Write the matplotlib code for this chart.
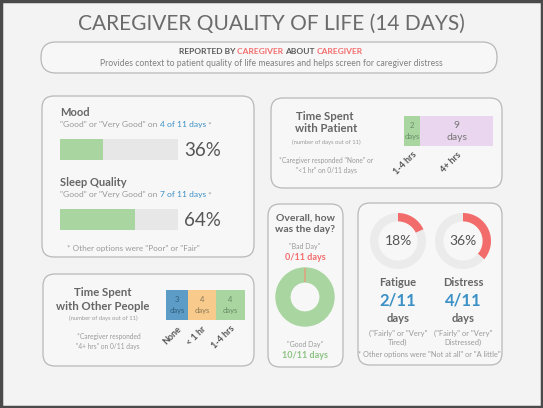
import numpy as np
import matplotlib.pyplot as plt
from matplotlib.patches import FancyBboxPatch, Rectangle

plt.rcParams['font.family'] = ['Lato', 'DejaVu Sans']

# ---- data ----
n_days = 11
mood_days = 4
sleep_days = 7
patient_labels = ['1-4 hrs', '4+ hrs']
patient_days = [2, 9]
others_labels = ['None', '< 1 hr', '1-4 hrs']
others_days = [3, 4, 4]
day_labels = ['Good Day', 'Bad Day']
day_counts = [10, 0]
fatigue_days = 2
distress_days = 4

# colours
GREEN = '#a9d6a0'
PINK = '#ead7ef'
BLUE = '#5d9cc6'
ORANGE = '#f8ca8c'
RED = '#f36c6c'
TXT_BLUE = '#3b90c6'
GREY = '#666666'
LIGHT = '#9a9a9a'

W, H = 543, 408
fig = plt.figure(figsize=(W / 100, H / 100), dpi=100)
fig.patch.set_facecolor('#f3f3f3')
bg = fig.add_axes([0, 0, 1, 1])
bg.set_xlim(0, W)
bg.set_ylim(H, 0)
bg.axis('off')
bg.add_patch(Rectangle((1, 1), W - 2, H - 2, fill=False, ec='#4a4a4a', lw=2.5))


def px_axes(x0, y0, x1, y1):
    a = fig.add_axes([x0 / W, 1 - y1 / H, (x1 - x0) / W, (y1 - y0) / H])
    a.patch.set_alpha(0)
    return a


def panel(x0, y0, x1, y1, r=12):
    bg.add_patch(FancyBboxPatch((x0, y0), x1 - x0, y1 - y0,
                                boxstyle=f'round,pad=0,rounding_size={r}',
                                fc='#f7f7f7', ec='#b8b8b8', lw=0.9))


def rich(x, y, parts, size, weight='normal', ha='left'):
    r = fig.canvas.get_renderer()
    texts = [bg.text(0, y, s, color=c, fontsize=size, fontweight=weight,
                     va='center', ha='left') for s, c in parts]
    widths = [t.get_window_extent(r).width for t in texts]
    cx = x - sum(widths) / 2 if ha == 'center' else x
    for t, w in zip(texts, widths):
        t.set_x(cx)
        cx += w


def note(x, y, s, size=4.8, **kw):
    bg.text(x, y, s, ha='center', va='center', fontsize=size, color=LIGHT, **kw)


def head(x, y, s, size=8.2, color=GREY):
    bg.text(x, y, s, ha='center', va='center', fontsize=size, fontweight='bold', color=color)


# ---- header ----
bg.text(271, 24, 'CAREGIVER QUALITY OF LIFE (14 DAYS)', ha='center', va='center',
        fontsize=15, color='#6b6b6b')
panel(41, 42, 497, 73, r=15)
rich(271, 51, [('REPORTED BY ', '#5a5a5a'), ('CAREGIVER ', RED), ('ABOUT ', '#5a5a5a'),
               ('CAREGIVER', RED)], 6, weight='bold', ha='center')
bg.text(271, 63, 'Provides context to patient quality of life measures and helps screen for caregiver distress',
        ha='center', va='center', fontsize=6.2, color='#808080')

# ---- mood / sleep panel ----
panel(42, 96, 254, 257)
for (name, days, ytop) in [('Mood', mood_days, 112), ('Sleep Quality', sleep_days, 182)]:
    bg.text(60, ytop, name, fontsize=8, fontweight='bold', color=GREY, va='center')
    rich(60, ytop + 13, [('"Good" or "Very Good" on ', LIGHT),
                         (f'{days} of {n_days} days', TXT_BLUE), (' *', LIGHT)], 6.1)
    bar_top = ytop + 27
    ax = px_axes(60, bar_top, 178, bar_top + 21)
    ax.barh([0], [n_days], height=1, color='#e7e7e7')
    ax.barh([0], [days], height=1, color=GREEN)
    ax.set_xlim(0, n_days)
    ax.set_ylim(-0.5, 0.5)
    ax.axis('off')
    bg.text(184, bar_top + 11, f'{round(100 * days / n_days)}%', fontsize=13.5,
            color='#555555', va='center')
bg.text(67, 248, '* Other options were "Poor" or "Fair"', fontsize=5.9, color=LIGHT, va='center')


def stacked(x0, y0, x1, y1, vals, labels, cols, txtcols, sizes):
    ax = px_axes(x0, y0, x1, y1)
    left = np.concatenate([[0], np.cumsum(vals)[:-1]])
    ax.barh([0] * len(vals), vals, left=left, height=1, color=cols)
    centers = left + np.array(vals) / 2
    for c, v, tc, s in zip(centers, vals, txtcols, sizes):
        ax.text(c, 0.17, str(v), ha='center', va='center', fontsize=s, color=tc)
        ax.text(c, -0.2, 'days', ha='center', va='center', fontsize=s, color=tc)
    ax.set_xlim(0, sum(vals))
    ax.set_ylim(-0.5, 0.5)
    ax.set_yticks([])
    ax.set_xticks(centers, labels, rotation=45, ha='right', rotation_mode='anchor',
                  fontsize=6.5, color='#555555', fontweight='bold')
    ax.tick_params(length=0, pad=3)
    for sp in ax.spines.values():
        sp.set_visible(False)


# ---- time with patient ----
panel(271, 98, 502, 188)
head(325, 116, 'Time Spent')
head(326, 129, 'with Patient')
note(326, 142, f'(number of days out of {n_days})', size=4.2)
note(326, 161, '*Caregiver responded "None" or')
note(326, 170, f'"<1 hr" on 0/{n_days} days')
stacked(404, 116, 493, 146, patient_days, patient_labels, [GREEN, PINK],
        ['#6a8a66', '#777777'], [5.5, 7.5])

# ---- time with other people ----
panel(43, 274, 254, 366)
head(103, 292, 'Time Spent')
head(103, 307, 'with Other People')
note(103, 318, f'(number of days out of {n_days})', size=4.2)
note(109, 337, '*Caregiver responded')
note(108, 346, f'"4+ hrs" on 0/{n_days} days')
stacked(166, 290, 245, 320, others_days, others_labels, [BLUE, ORANGE, GREEN],
        ['#2f5f7e', '#8a7a5a', '#6a8a66'], [5.5, 5.5, 5.5])

# ---- overall day ----
panel(268, 204, 343, 367)
head(305, 218, 'Overall, how', size=7.5)
head(305, 230, 'was the day?', size=7.5)
note(305, 247, f'"{day_labels[1]}"', size=5)
head(305, 258, f'{day_counts[1]}/{n_days} days', size=6.5, color=RED)
note(305, 344, f'"{day_labels[0]}"', size=5)
head(305, 355, f'{day_counts[0]}/{n_days} days', size=6.5, color='#8cc383')
ax = px_axes(276, 268, 334, 326)
wedges, _ = ax.pie(day_counts, colors=[GREEN, RED], startangle=90, counterclock=False,
                   wedgeprops=dict(width=0.48, lw=1))
wedges[0].set_edgecolor(GREEN)
wedges[1].set_edgecolor('#e89a7a')
ax.set_xlim(-1, 1)
ax.set_ylim(-1, 1)

# ---- fatigue / distress ----
panel(358, 203, 502, 365)
for cx, name, days, kind in [(398, 'Fatigue', fatigue_days, 'Tired)'),
                             (463, 'Distress', distress_days, 'Distressed)')]:
    ax = px_axes(cx - 28, 213, cx + 28, 269)
    ax.pie([days, n_days - days], colors=[RED, '#ebebeb'], startangle=90, counterclock=False,
           wedgeprops=dict(width=0.3))
    ax.set_xlim(-1, 1)
    ax.set_ylim(-1, 1)
    bg.text(cx, 241, f'{round(100 * days / n_days)}%', ha='center', va='center', fontsize=10, color='#555555')
    head(cx, 282, name, size=8)
    head(cx, 301, f'{days}/{n_days}', size=12, color=TXT_BLUE)
    head(cx, 319, 'days', size=8)
    note(cx, 333, '("Fairly" or "Very"', size=5.4)
    note(cx, 342, kind, size=5.4)
note(429, 355, '* Other options were "Not at all" or "A little"', size=5.3)

fig.savefig('out.png', dpi=100, facecolor=fig.get_facecolor())
